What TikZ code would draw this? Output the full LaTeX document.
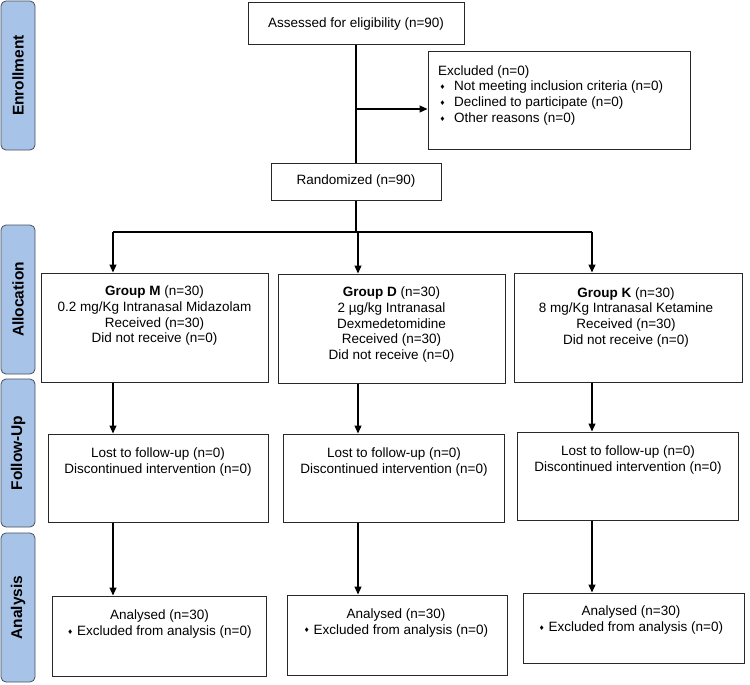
\documentclass[tikz,border=0pt]{standalone}
\usepackage{fontspec}
\setmainfont{Liberation Sans}
\newfontfamily\symfont{DejaVu Sans}
\usetikzlibrary{arrows.meta}
\definecolor{lblfill}{RGB}{168,195,232}
\definecolor{lbldraw}{RGB}{70,80,95}
\definecolor{boxdraw}{RGB}{40,40,40}
\newcommand{\dbul}{{\symfont\fontsize{6.5}{6.5}\selectfont\raisebox{1.2pt}{♦}}}
\newcommand{\mainsize}{\fontsize{13.5}{15.7}\selectfont}
\begin{document}
\begin{tikzpicture}[x=1pt,y=-1pt,
  box/.style={draw=boxdraw, line width=1pt, inner sep=0pt, font=\mainsize},
  txt/.style={font=\mainsize, align=center, inner sep=0pt},
  side/.style={draw=lbldraw, fill=lblfill, line width=0.8pt, rounded corners=5pt, rotate=90, inner sep=0pt, minimum height=34pt, font=\fontsize{15.5}{18}\selectfont\bfseries},
  arr/.style={line width=1.2pt, -{Triangle[length=8pt,width=7pt]}},
  conn/.style={line width=1.2pt}
]
\useasboundingbox (0,0) rectangle (750,685);

% side labels
\node[side, minimum width=149pt] (lblE) at (18,75.5) {Enrollment};
\node[side, minimum width=149pt] (lblA) at (18,299.5) {Allocation};
\node[side, minimum width=148pt] (lblF) at (18,453) {Follow-Up};
\node[side, minimum width=149pt] (lblN) at (18,607.5) {Analysis};

% enrollment
\node[box, minimum width=216pt, minimum height=42pt] (assess) at (356,24) {\mainsize Assessed for eligibility (n=90)};
\node[box, minimum width=262pt, minimum height=97pt] (excl) at (559,100.5) {};
\node[txt, align=left, anchor=west] (tExcl) at (438,95.3) {\mainsize Excluded (n=0)\\
\makebox[16pt][l]{\hspace{1.5pt}\dbul}\mainsize Not meeting inclusion criteria (n=0)\\
\makebox[16pt][l]{\hspace{1.5pt}\dbul}\mainsize Declined to participate (n=0)\\
\makebox[16pt][l]{\hspace{1.5pt}\dbul}\mainsize Other reasons (n=0)};
\node[box, minimum width=170pt, minimum height=37pt] (rand) at (356,181.5) {Randomized (n=90)};

% allocation
\node[box, minimum width=227pt, minimum height=109pt] (gM) at (154.5,327.5) {};
\node[box, minimum width=227pt, minimum height=109pt] (gD) at (391.5,328.5) {};
\node[box, minimum width=228pt, minimum height=109pt] (gK) at (628,327.5) {};
\node[txt] (tM) at (154.5,315.7) {\textbf{Group M} (n=30)\\0.2 mg/Kg Intranasal Midazolam\\Received (n=30)\\Did not receive (n=0)};
\node[txt] (tD) at (391.5,324.7) {\textbf{Group D} (n=30)\\2 µg/kg Intranasal\\Dexmedetomidine\\Received (n=30)\\Did not receive (n=0)};
\node[txt] (tK) at (626,317.2) {\textbf{Group K} (n=30)\\8 mg/Kg Intranasal Ketamine\\Received (n=30)\\Did not receive (n=0)};

% follow-up
\node[box, minimum width=220pt, minimum height=88pt] (fM) at (158,478) {};
\node[box, minimum width=221pt, minimum height=88pt] (fD) at (393.5,478) {};
\node[box, minimum width=221pt, minimum height=88pt] (fK) at (627.5,476) {};
\node[txt] (tfM) at (158,462.2) {Lost to follow-up (n=0)\\Discontinued intervention (n=0)};
\node[txt] (tfD) at (394,462.2) {Lost to follow-up (n=0)\\Discontinued intervention (n=0)};
\node[txt] (tfK) at (628,460.2) {Lost to follow-up (n=0)\\Discontinued intervention (n=0)};

% analysis
\node[box, minimum width=214pt, minimum height=80pt] (aM) at (159,636) {};
\node[box, minimum width=220pt, minimum height=80pt] (aD) at (397,635) {};
\node[box, minimum width=221pt, minimum height=70pt] (aK) at (633.5,628) {};
\node[txt] (taM) at (159.5,624.2) {Analysed (n=30)\\\dbul\hspace{4pt}Excluded from analysis (n=0)};
\node[txt] (taD) at (396,622.7) {Analysed (n=30)\\\dbul\hspace{4pt}Excluded from analysis (n=0)};
\node[txt] (taK) at (631,620.2) {Analysed (n=30)\\\dbul\hspace{4pt}Excluded from analysis (n=0)};

% connectors
\draw[conn] (assess.south) -- (rand.north);
\coordinate (ex) at (356,109);
\draw[arr] (ex) -- (ex -| excl.west);
\coordinate (split) at (356,232);
\coordinate (bM) at (113,232);
\coordinate (bD) at (358,232);
\coordinate (bK) at (592,232);
\draw[conn] (rand.south) -- (split);
\draw[conn] (bM) -- (bK);
\draw[arr] (bM) -- (bM |- gM.north);
\draw[arr] (bD) -- (bD |- gD.north);
\draw[arr] (bK) -- (bK |- gK.north);
\draw[arr] (gM.south -| bM) -- (fM.north -| bM);
\draw[arr] (gD.south -| bD) -- (fD.north -| bD);
\draw[arr] (gK.south -| bK) -- (fK.north -| bK);
\draw[arr] (fM.south -| bM) -- (aM.north -| bM);
\draw[arr] (fD.south -| bD) -- (aD.north -| bD);
\draw[arr] (fK.south -| bK) -- (aK.north -| bK);
\end{tikzpicture}
\end{document}
